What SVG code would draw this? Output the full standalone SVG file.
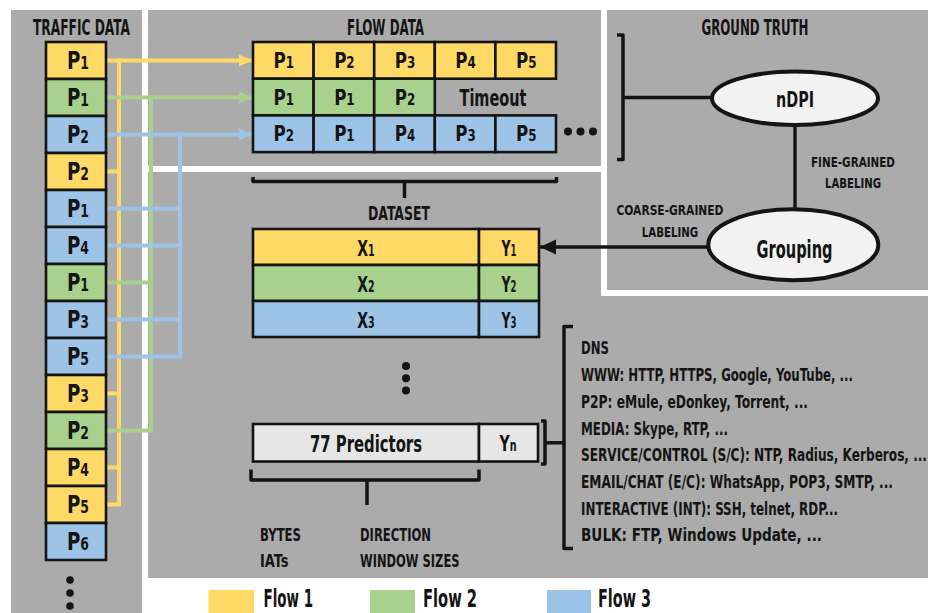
<svg xmlns="http://www.w3.org/2000/svg" width="928" height="613" viewBox="0 0 928 613">
  <defs>
    <style>
      text { font-family: "Liberation Sans Narrow", "DejaVu Sans Condensed", "Liberation Sans", sans-serif; font-weight: bold; fill: #141414; }
      .panel { fill: #ababab; }
      .cell { stroke: #141414; stroke-width: 2.6; }
      .y { fill: #ffd966; }
      .g { fill: #a9d18e; }
      .b { fill: #9dc3e6; }
      .lt { fill: #e7e6e6; }
      .pk { font-size: 25px; text-anchor: middle; }
      .pf { font-size: 21px; text-anchor: middle; }
      .px { font-size: 22px; text-anchor: middle; }
      .sub { font-size: 17px; }
      .subf { font-size: 15px; }
      .hd { font-size: 20.5px; text-anchor: middle; }
      .big { font-size: 23px; text-anchor: middle; }
      .lab { font-size: 14.5px; text-anchor: middle; }
      .lst { font-size: 17.5px; }
      .leg { font-size: 24px; }
      .ly { stroke: #ffd966; stroke-width: 4; fill: none; }
      .lg { stroke: #a9d18e; stroke-width: 4; fill: none; }
      .lb { stroke: #9dc3e6; stroke-width: 4; fill: none; }
      .stub { stroke-linecap: square; }
      .br { stroke: #141414; stroke-width: 3.5; fill: none; stroke-linejoin: round; }
      .ell { fill: #f2f2f2; stroke: #141414; stroke-width: 4; }
      .dot { fill: #141414; }
    </style>
    <marker id="ah-y" markerUnits="userSpaceOnUse" viewBox="0 0 14 13" markerWidth="14" markerHeight="13" refX="13" refY="6.5" orient="auto">
      <path d="M0,0.5 L13,6.5 L0,12.5 z" fill="#ffd966"/>
    </marker>
    <marker id="ah-g" markerUnits="userSpaceOnUse" viewBox="0 0 14 13" markerWidth="14" markerHeight="13" refX="13" refY="6.5" orient="auto">
      <path d="M0,0.5 L13,6.5 L0,12.5 z" fill="#a9d18e"/>
    </marker>
    <marker id="ah-b" markerUnits="userSpaceOnUse" viewBox="0 0 14 13" markerWidth="14" markerHeight="13" refX="13" refY="6.5" orient="auto">
      <path d="M0,0.5 L13,6.5 L0,12.5 z" fill="#9dc3e6"/>
    </marker>
    <marker id="ah-k" markerUnits="userSpaceOnUse" viewBox="0 0 17 16" markerWidth="17" markerHeight="16" refX="16" refY="8" orient="auto">
      <path d="M0,0.5 L16,8 L0,15.5 z" fill="#141414"/>
    </marker>
  </defs>

  <rect width="928" height="613" fill="#ffffff"/>

  <!-- background panels -->
  <g id="panels">
    <rect class="panel" x="11" y="10" width="131" height="603"/>
    <rect class="panel" x="148" y="10" width="453" height="156"/>
    <rect class="panel" x="148" y="172" width="780" height="406"/>
    <rect x="601" y="166" width="327" height="130" fill="#ffffff"/>
    <rect class="panel" x="607" y="10" width="321" height="280"/>
  </g>

  <!-- connectors -->
  <g id="connectors">
    <path class="ly stub" d="M119,60.5 V504.5 M106,171.5 H119 M106,393.5 H119 M106,467.5 H119 M106,504.5 H119"/>
    <path class="ly" d="M106,60.5 H252" marker-end="url(#ah-y)"/>
    <path class="lg stub" d="M151,97.5 V430.5 M106,282.5 H151 M106,430.5 H151"/>
    <path class="lg" d="M106,97.5 H252" marker-end="url(#ah-g)"/>
    <path class="lb stub" d="M180,134.5 V356.5 M106,208.5 H180 M106,245.5 H180 M106,319.5 H180 M106,356.5 H180"/>
    <path class="lb" d="M106,134.5 H252" marker-end="url(#ah-b)"/>

    <!-- flow data to dataset -->
    <path class="br" d="M253,177 V181.5 H556.5 V177 M404.5,181.5 V198"/>
    <!-- ground truth bracket -->
    <path class="br" d="M617,35 H623 V159.5 H617 M623,97.5 H712"/>
    <path class="br" d="M795,125 V209" stroke-width="4"/>
    <path class="br" d="M708,247 H540" stroke-width="4" marker-end="url(#ah-k)"/>
    <!-- predictors bracket -->
    <path class="br" d="M251,469.5 V480 H479 V469.5 M367,480 V505"/>
    <!-- label bracket to class list -->
    <path class="br" d="M541,421 H545 V464 H541 M545,442.7 H564 M573,326.5 H564 V548.5 H573"/>
  </g>

  <!-- traffic data -->
  <g id="traffic-data">
    <text class="hd" x="81.5" y="35" textLength="97" lengthAdjust="spacingAndGlyphs">TRAFFIC DATA</text>
    <rect class="cell y" x="46" y="42" width="60" height="37"/>
    <rect class="cell g" x="46" y="79" width="60" height="37"/>
    <rect class="cell b" x="46" y="116" width="60" height="37"/>
    <rect class="cell y" x="46" y="153" width="60" height="37"/>
    <rect class="cell b" x="46" y="190" width="60" height="37"/>
    <rect class="cell b" x="46" y="227" width="60" height="37"/>
    <rect class="cell g" x="46" y="264" width="60" height="37"/>
    <rect class="cell b" x="46" y="301" width="60" height="37"/>
    <rect class="cell b" x="46" y="338" width="60" height="37"/>
    <rect class="cell y" x="46" y="375" width="60" height="37"/>
    <rect class="cell g" x="46" y="412" width="60" height="37"/>
    <rect class="cell y" x="46" y="449" width="60" height="37"/>
    <rect class="cell y" x="46" y="486" width="60" height="37"/>
    <rect class="cell b" x="46" y="523" width="60" height="37"/>
    <!-- packet labels, narrowed to a condensed width -->
    <g transform="translate(78 0) scale(0.77 1)">
      <text class="pk" x="0" y="69.5" textLength="28.6" lengthAdjust="spacingAndGlyphs">P<tspan class="sub">1</tspan></text>
      <text class="pk" x="0" y="106.5" textLength="28.6" lengthAdjust="spacingAndGlyphs">P<tspan class="sub">1</tspan></text>
      <text class="pk" x="0" y="143.5" textLength="28.6" lengthAdjust="spacingAndGlyphs">P<tspan class="sub">2</tspan></text>
      <text class="pk" x="0" y="180.5" textLength="28.6" lengthAdjust="spacingAndGlyphs">P<tspan class="sub">2</tspan></text>
      <text class="pk" x="0" y="217.5" textLength="28.6" lengthAdjust="spacingAndGlyphs">P<tspan class="sub">1</tspan></text>
      <text class="pk" x="0" y="254.5" textLength="28.6" lengthAdjust="spacingAndGlyphs">P<tspan class="sub">4</tspan></text>
      <text class="pk" x="0" y="291.5" textLength="28.6" lengthAdjust="spacingAndGlyphs">P<tspan class="sub">1</tspan></text>
      <text class="pk" x="0" y="328.5" textLength="28.6" lengthAdjust="spacingAndGlyphs">P<tspan class="sub">3</tspan></text>
      <text class="pk" x="0" y="365.5" textLength="28.6" lengthAdjust="spacingAndGlyphs">P<tspan class="sub">5</tspan></text>
      <text class="pk" x="0" y="402.5" textLength="28.6" lengthAdjust="spacingAndGlyphs">P<tspan class="sub">3</tspan></text>
      <text class="pk" x="0" y="439.5" textLength="28.6" lengthAdjust="spacingAndGlyphs">P<tspan class="sub">2</tspan></text>
      <text class="pk" x="0" y="476.5" textLength="28.6" lengthAdjust="spacingAndGlyphs">P<tspan class="sub">4</tspan></text>
      <text class="pk" x="0" y="513.5" textLength="28.6" lengthAdjust="spacingAndGlyphs">P<tspan class="sub">5</tspan></text>
      <text class="pk" x="0" y="550.5" textLength="28.6" lengthAdjust="spacingAndGlyphs">P<tspan class="sub">6</tspan></text>
    </g>
    <circle class="dot" cx="70" cy="580" r="3.8"/>
    <circle class="dot" cx="70" cy="593" r="3.8"/>
    <circle class="dot" cx="70" cy="606" r="3.8"/>
  </g>

  <!-- flow data -->
  <g id="flow-data">
    <text class="hd" x="385.5" y="35" textLength="77" lengthAdjust="spacingAndGlyphs">FLOW DATA</text>
    <rect class="cell y" x="253" y="42" width="60.6" height="36.7"/>
    <rect class="cell y" x="313.6" y="42" width="60.6" height="36.7"/>
    <rect class="cell y" x="374.2" y="42" width="60.6" height="36.7"/>
    <rect class="cell y" x="434.8" y="42" width="60.6" height="36.7"/>
    <rect class="cell y" x="495.4" y="42" width="60.6" height="36.7"/>
    <rect class="cell g" x="253" y="78.7" width="60.6" height="36.7"/>
    <rect class="cell g" x="313.6" y="78.7" width="60.6" height="36.7"/>
    <rect class="cell g" x="374.2" y="78.7" width="60.6" height="36.7"/>
    <rect class="cell b" x="253" y="115.4" width="60.6" height="36.7"/>
    <rect class="cell b" x="313.6" y="115.4" width="60.6" height="36.7"/>
    <rect class="cell b" x="374.2" y="115.4" width="60.6" height="36.7"/>
    <rect class="cell b" x="434.8" y="115.4" width="60.6" height="36.7"/>
    <rect class="cell b" x="495.4" y="115.4" width="60.6" height="36.7"/>
    <g transform="scale(0.82 1)">
      <text class="pf" x="346.1" y="68" textLength="25" lengthAdjust="spacingAndGlyphs">P<tspan class="subf">1</tspan></text>
      <text class="pf" x="420" y="68" textLength="25" lengthAdjust="spacingAndGlyphs">P<tspan class="subf">2</tspan></text>
      <text class="pf" x="493.9" y="68" textLength="25" lengthAdjust="spacingAndGlyphs">P<tspan class="subf">3</tspan></text>
      <text class="pf" x="567.8" y="68" textLength="25" lengthAdjust="spacingAndGlyphs">P<tspan class="subf">4</tspan></text>
      <text class="pf" x="641.7" y="68" textLength="25" lengthAdjust="spacingAndGlyphs">P<tspan class="subf">5</tspan></text>
      <text class="pf" x="346.1" y="104.7" textLength="25" lengthAdjust="spacingAndGlyphs">P<tspan class="subf">1</tspan></text>
      <text class="pf" x="420" y="104.7" textLength="25" lengthAdjust="spacingAndGlyphs">P<tspan class="subf">1</tspan></text>
      <text class="pf" x="493.9" y="104.7" textLength="25" lengthAdjust="spacingAndGlyphs">P<tspan class="subf">2</tspan></text>
      <text class="pf" x="346.1" y="141.4" textLength="25" lengthAdjust="spacingAndGlyphs">P<tspan class="subf">2</tspan></text>
      <text class="pf" x="420" y="141.4" textLength="25" lengthAdjust="spacingAndGlyphs">P<tspan class="subf">1</tspan></text>
      <text class="pf" x="493.9" y="141.4" textLength="25" lengthAdjust="spacingAndGlyphs">P<tspan class="subf">4</tspan></text>
      <text class="pf" x="567.8" y="141.4" textLength="25" lengthAdjust="spacingAndGlyphs">P<tspan class="subf">3</tspan></text>
      <text class="pf" x="641.7" y="141.4" textLength="25" lengthAdjust="spacingAndGlyphs">P<tspan class="subf">5</tspan></text>
    </g>
    <text class="big" x="493" y="106" textLength="67" lengthAdjust="spacingAndGlyphs">Timeout</text>
    <circle class="dot" cx="568" cy="131.5" r="4"/>
    <circle class="dot" cx="580.5" cy="131.5" r="4"/>
    <circle class="dot" cx="593" cy="131.5" r="4"/>
  </g>

  <!-- ground truth -->
  <g id="ground-truth">
    <text class="hd" x="755" y="35" textLength="107" lengthAdjust="spacingAndGlyphs">GROUND TRUTH</text>
  </g>
  <g id="ndpi">
    <ellipse class="ell" cx="795" cy="98.3" rx="83" ry="26.7"/>
    <text class="big" x="795" y="106.5" textLength="38" lengthAdjust="spacingAndGlyphs" style="font-size:21px">nDPI</text>
  </g>
  <g id="grouping">
    <ellipse class="ell" cx="793.3" cy="244.7" rx="85" ry="35.5"/>
    <text class="big" x="794.5" y="258" textLength="76" lengthAdjust="spacingAndGlyphs" style="font-size:24px">Grouping</text>
  </g>
  <g id="edge-labels">
    <text class="lab" x="853" y="166.5" textLength="84" lengthAdjust="spacingAndGlyphs">FINE-GRAINED</text>
    <text class="lab" x="853" y="188.3" textLength="56" lengthAdjust="spacingAndGlyphs">LABELING</text>
    <text class="lab" x="670" y="215" textLength="107" lengthAdjust="spacingAndGlyphs">COARSE-GRAINED</text>
    <text class="lab" x="670" y="236.7" textLength="56.5" lengthAdjust="spacingAndGlyphs">LABELING</text>
  </g>

  <!-- dataset -->
  <g id="dataset">
    <text class="hd" x="399" y="220" textLength="62" lengthAdjust="spacingAndGlyphs" style="font-size:19px">DATASET</text>
    <rect class="cell y" x="253" y="229" width="226" height="36"/>
    <rect class="cell y" x="479" y="229" width="60" height="36"/>
    <rect class="cell g" x="253" y="265" width="226" height="36"/>
    <rect class="cell g" x="479" y="265" width="60" height="36"/>
    <rect class="cell b" x="253" y="301" width="226" height="36"/>
    <rect class="cell b" x="479" y="301" width="60" height="36"/>
    <g transform="translate(366 0) scale(0.76 1)">
      <text class="px" x="0" y="256" textLength="23" lengthAdjust="spacingAndGlyphs">X<tspan class="subf">1</tspan></text>
      <text class="px" x="0" y="292.5" textLength="23" lengthAdjust="spacingAndGlyphs">X<tspan class="subf">2</tspan></text>
      <text class="px" x="0" y="328.5" textLength="23" lengthAdjust="spacingAndGlyphs">X<tspan class="subf">3</tspan></text>
    </g>
    <g transform="translate(509 0) scale(0.7 1)">
      <text class="px" x="0" y="256" textLength="21.4" lengthAdjust="spacingAndGlyphs">Y<tspan class="subf">1</tspan></text>
      <text class="px" x="0" y="292.5" textLength="21.4" lengthAdjust="spacingAndGlyphs">Y<tspan class="subf">2</tspan></text>
      <text class="px" x="0" y="328.5" textLength="21.4" lengthAdjust="spacingAndGlyphs">Y<tspan class="subf">3</tspan></text>
    </g>
    <circle class="dot" cx="406" cy="366" r="4"/>
    <circle class="dot" cx="406" cy="378.3" r="4"/>
    <circle class="dot" cx="406" cy="390.6" r="4"/>
  </g>

  <g id="predictors">
    <rect class="cell lt" x="253" y="424" width="226" height="37.5"/>
    <rect class="cell lt" x="479" y="424" width="59" height="37.5"/>
    <text class="big" x="366" y="451.5" textLength="112" lengthAdjust="spacingAndGlyphs">77 Predictors</text>
    <g transform="translate(508 0) scale(0.7 1)">
      <text class="px" x="0" y="451.5" textLength="24.3" lengthAdjust="spacingAndGlyphs">Y<tspan class="subf">n</tspan></text>
    </g>
  </g>

  <g id="features">
    <text class="lst" x="260" y="540.5" textLength="41" lengthAdjust="spacingAndGlyphs">BYTES</text>
    <text class="lst" x="260" y="567" textLength="28.5" lengthAdjust="spacingAndGlyphs">IATs</text>
    <text class="lst" x="360" y="540.5" textLength="71" lengthAdjust="spacingAndGlyphs">DIRECTION</text>
    <text class="lst" x="360" y="567" textLength="99.5" lengthAdjust="spacingAndGlyphs">WINDOW SIZES</text>
  </g>

  <!-- class list, set in a horizontally condensed frame -->
  <g id="classes" transform="translate(581 0) scale(0.75 1)">
    <text class="lst" x="0" y="354" textLength="37.3" lengthAdjust="spacingAndGlyphs">DNS</text>
    <text class="lst" x="0" y="381" textLength="362.7" lengthAdjust="spacingAndGlyphs">WWW: HTTP, HTTPS, Google, YouTube, ...</text>
    <text class="lst" x="0" y="408" textLength="302.7" lengthAdjust="spacingAndGlyphs">P2P: eMule, eDonkey, Torrent, ...</text>
    <text class="lst" x="0" y="435" textLength="196" lengthAdjust="spacingAndGlyphs">MEDIA: Skype, RTP, ...</text>
    <text class="lst" x="0" y="461.5" textLength="461.3" lengthAdjust="spacingAndGlyphs">SERVICE/CONTROL (S/C): NTP, Radius, Kerberos, ...</text>
    <text class="lst" x="0" y="488" textLength="416" lengthAdjust="spacingAndGlyphs">EMAIL/CHAT (E/C): WhatsApp, POP3, SMTP, ...</text>
    <text class="lst" x="0" y="515" textLength="342.7" lengthAdjust="spacingAndGlyphs">INTERACTIVE (INT): SSH, telnet, RDP...</text>
    <text class="lst" x="0" y="541.5" textLength="321.3" lengthAdjust="spacingAndGlyphs">BULK: FTP, Windows Update, ...</text>
  </g>

  <!-- legend -->
  <g id="legend">
    <rect class="y" x="208.5" y="590" width="45.5" height="23"/>
    <text class="leg" x="263.5" y="607" textLength="49.5" lengthAdjust="spacingAndGlyphs">Flow 1</text>
    <rect class="g" x="370" y="590" width="45" height="23"/>
    <text class="leg" x="423" y="607" textLength="54" lengthAdjust="spacingAndGlyphs">Flow 2</text>
    <rect class="b" x="547" y="590" width="44" height="23"/>
    <text class="leg" x="598" y="607" textLength="53" lengthAdjust="spacingAndGlyphs">Flow 3</text>
  </g>
</svg>
